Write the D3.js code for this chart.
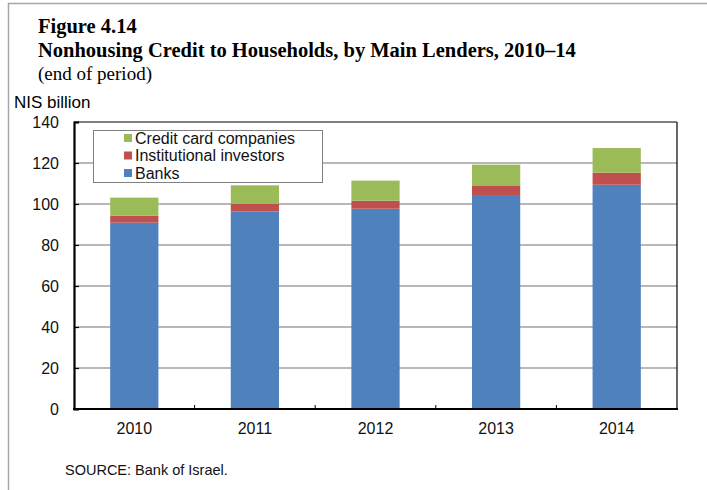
<!DOCTYPE html>
<html>
<head>
<meta charset="utf-8">
<script src="https://cdn.jsdelivr.net/npm/d3@7"></script>
<style>
  html, body { margin: 0; padding: 0; background: #fff; }
  svg { display: block; }
</style>
</head>
<body>
<svg id="chart" width="707" height="490"></svg>
<script>
// Nonhousing credit to households by main lender, NIS billion (end of period)
const years = ["2010", "2011", "2012", "2013", "2014"];
const banks = [90.9, 96.4, 97.7, 104.4, 109.4];
const institutional = [3.4, 3.7, 3.9, 4.7, 5.9];
const creditCards = [8.8, 9.0, 9.8, 10.1, 12.0];
const seriesNames = ["Banks", "Institutional investors", "Credit card companies"];
const seriesColors = ["#4f81bd", "#c0504d", "#9bbb59"];
const yTicks = [0, 20, 40, 60, 80, 100, 120, 140];

const svg = d3.select("#chart");
const sans = "'Liberation Sans', Arial, sans-serif";
const serif = "'Liberation Serif', 'Times New Roman', serif";

// outer frame
svg.append("rect")
  .attr("x", 8.5).attr("y", 3.5).attr("width", 760).attr("height", 560)
  .attr("fill", "none").attr("stroke", "#a6a6a6").attr("stroke-width", 1.5);

// headings
svg.append("text").attr("x", 38).attr("y", 33)
  .attr("font-family", serif).attr("font-weight", "bold").attr("font-size", 20.5)
  .text("Figure 4.14");
svg.append("text").attr("x", 38).attr("y", 57)
  .attr("font-family", serif).attr("font-weight", "bold").attr("font-size", 20.5)
  .text("Nonhousing Credit to Households, by Main Lenders, 2010–14");
svg.append("text").attr("x", 38).attr("y", 80)
  .attr("font-family", serif).attr("font-size", 19)
  .text("(end of period)");
svg.append("text").attr("x", 14).attr("y", 108)
  .attr("font-family", sans).attr("font-size", 17)
  .text("NIS billion");

const plotL = 74, plotR = 677, plotT = 122, plotB = 409;

const x = d3.scaleBand().domain(years).range([plotL, plotR]).paddingInner(0.6).paddingOuter(0.3);
const y = d3.scaleLinear().domain([0, 140]).range([plotB, plotT]);

// gridlines
svg.append("g").selectAll("line")
  .data(yTicks.filter(d => d > 0 && d < 140))
  .join("line")
  .attr("x1", plotL).attr("x2", plotR)
  .attr("y1", d => y(d)).attr("y2", d => y(d))
  .attr("stroke", "#a0a0a0").attr("stroke-width", 1.5);

// stacked bars
const rows = years.map((yr, i) => ({
  year: yr,
  "Banks": banks[i],
  "Institutional investors": institutional[i],
  "Credit card companies": creditCards[i]
}));
const stack = d3.stack().keys(seriesNames)(rows);
svg.append("g").selectAll("g")
  .data(stack)
  .join("g")
  .attr("fill", (d, i) => seriesColors[i])
  .selectAll("rect")
  .data(d => d)
  .join("rect")
  .attr("x", d => x(d.data.year))
  .attr("width", x.bandwidth())
  .attr("y", d => y(d[1]))
  .attr("height", d => y(d[0]) - y(d[1]));

// plot frame: thin top/right, heavy left/bottom axes
svg.append("line").attr("x1", plotL).attr("x2", plotR).attr("y1", plotT).attr("y2", plotT)
  .attr("stroke", "#000").attr("stroke-width", 1.2);
svg.append("line").attr("x1", plotR).attr("x2", plotR).attr("y1", plotT).attr("y2", plotB)
  .attr("stroke", "#000").attr("stroke-width", 1.2);

const yAxis = d3.axisLeft(y).tickValues(yTicks).tickSize(-5).tickPadding(15);
const gy = svg.append("g").attr("transform", `translate(${plotL},0)`).call(yAxis);
gy.select(".domain").attr("stroke", "#000").attr("stroke-width", 2.2);
gy.selectAll(".tick line").attr("stroke", "#000").attr("stroke-width", 1.2);
gy.selectAll(".tick text").attr("font-family", sans).attr("font-size", 16).attr("fill", "#111");

const xAxis = d3.axisBottom(x).tickSize(0).tickPadding(14);
const gx = svg.append("g").attr("transform", `translate(0,${plotB})`).call(xAxis);
gx.select(".domain").remove();
gx.selectAll(".tick text").attr("font-family", sans).attr("font-size", 16).attr("fill", "#111");
// category boundary ticks
const bounds = d3.range(1, years.length).map(i => plotL + i * (plotR - plotL) / years.length);
svg.append("g").selectAll("line").data(bounds).join("line")
  .attr("x1", d => d).attr("x2", d => d)
  .attr("y1", plotB).attr("y2", plotB - 4)
  .attr("stroke", "#000").attr("stroke-width", 1);
svg.append("line").attr("x1", plotL - 1).attr("x2", plotR + 1).attr("y1", plotB).attr("y2", plotB)
  .attr("stroke", "#000").attr("stroke-width", 2.2);

// legend
const lg = svg.append("g");
lg.append("rect").attr("x", 93.5).attr("y", 130.5).attr("width", 229).attr("height", 52)
  .attr("fill", "#fff").attr("stroke", "#808080").attr("stroke-width", 1);
const legendOrder = [2, 1, 0];
legendOrder.forEach((si, row) => {
  const cy = 138 + row * 17.5;
  lg.append("rect").attr("x", 124).attr("y", cy - 4).attr("width", 8).attr("height", 8)
    .attr("fill", seriesColors[si]);
  lg.append("text").attr("x", 135).attr("y", cy + 5.5)
    .attr("font-family", sans).attr("font-size", 16).attr("fill", "#111")
    .text(seriesNames[si]);
});

// source note
svg.append("text").attr("x", 65).attr("y", 475)
  .attr("font-family", sans).attr("font-size", 14.5).attr("fill", "#111")
  .text("SOURCE: Bank of Israel.");
</script>
</body>
</html>
